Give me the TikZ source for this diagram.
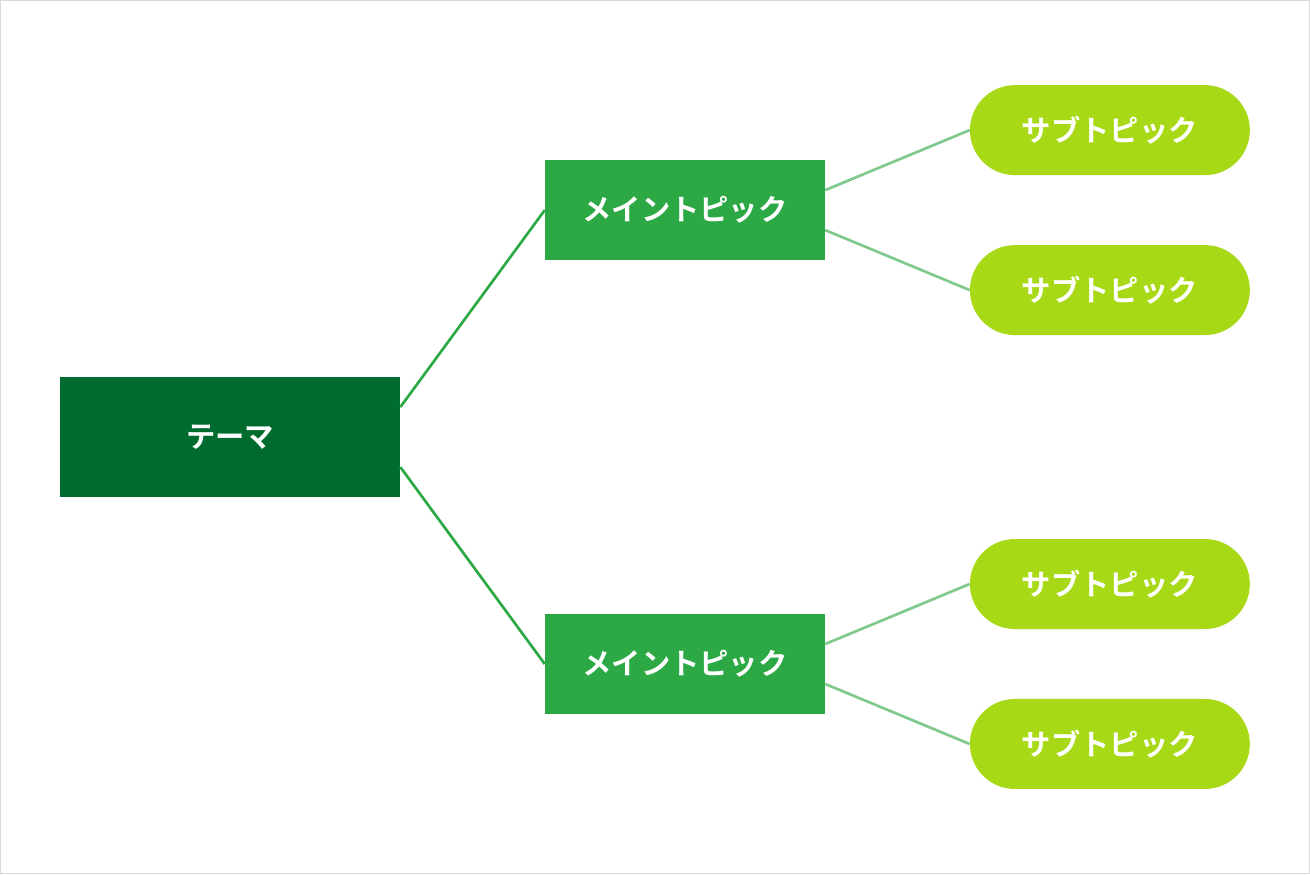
\documentclass[tikz,border=0pt]{standalone}
\usepackage{fontspec}
\newfontfamily\cjk{Noto Sans CJK JP Bold}
\definecolor{dk}{HTML}{006B2E}
\definecolor{md}{HTML}{2CA844}
\definecolor{lt}{HTML}{A8D916}
\definecolor{ln}{HTML}{7FC98C}
\tikzset{
 box/.style={inner sep=0pt,text=white,font=\cjk\fontsize{22}{26}\selectfont},
 theme/.style={box,fill=dk,minimum width=255pt,minimum height=90pt},
 mainbox/.style={box,fill=md,minimum width=210pt,minimum height=75pt},
 sub/.style={box,fill=lt,minimum width=210pt,minimum height=67.5pt,rounded corners=33.7pt},
 l1/.style={md,line width=2pt},
 l2/.style={ln,line width=2pt}
}
\begin{document}
\begin{tikzpicture}[x=0.75pt,y=-0.75pt]
\draw[fill=white,draw=black!15,line width=1pt] (0.5,0.5) rectangle (1309.5,873.5);
\useasboundingbox (0,0) rectangle (1310,874);
\node[theme] (t) at (230,437) {テーマ};
\node[mainbox] (m1) at (685,210) {メイントピック};
\node[mainbox] (m2) at (685,664) {メイントピック};
\node[sub] (s1) at (1110,130) {サブトピック};
\node[sub] (s2) at (1110,290) {サブトピック};
\node[sub] (s3) at (1110,584) {サブトピック};
\node[sub] (s4) at (1110,744) {サブトピック};
\draw[l1] ([yshift=22.5pt]t.east) -- (m1.west);
\draw[l1] ([yshift=-22.5pt]t.east) -- (m2.west);
\draw[l2] ([yshift=15pt]m1.east) -- (s1.west);
\draw[l2] ([yshift=-15pt]m1.east) -- (s2.west);
\draw[l2] ([yshift=15pt]m2.east) -- (s3.west);
\draw[l2] ([yshift=-15pt]m2.east) -- (s4.west);
\end{tikzpicture}
\end{document}
